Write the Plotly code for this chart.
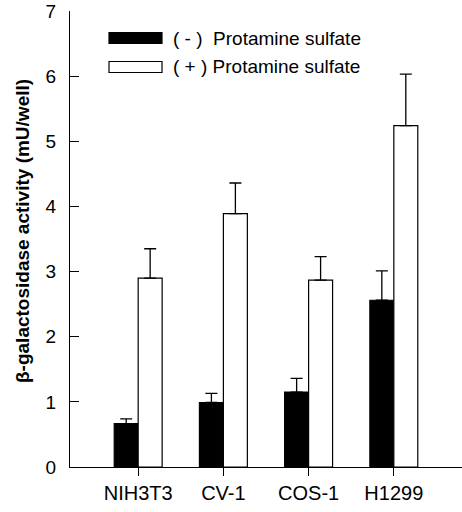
import plotly.graph_objects as go

categories = ["NIH3T3", "CV-1", "COS-1", "H1299"]
minus_values = [0.665, 0.99, 1.15, 2.56]
minus_errors = [0.075, 0.14, 0.21, 0.45]
plus_values = [2.90, 3.89, 2.87, 5.24]
plus_errors = [0.45, 0.47, 0.36, 0.79]
series_names = ["( - )  Protamine sulfate", "( + ) Protamine sulfate"]
y_ticks = [0, 1, 2, 3, 4, 5, 6, 7]
y_title = "β-galactosidase activity (mU/well)"

FONT = "Liberation Sans, Arial, Helvetica, sans-serif"
xpos = list(range(len(categories)))

fig = go.Figure()
fig.add_trace(go.Bar(
    x=xpos, y=minus_values, name=series_names[0],
    marker=dict(color="black", line=dict(color="black", width=1.2)),
    error_y=dict(type="data", symmetric=False, array=minus_errors,
                 arrayminus=[0] * len(minus_errors),
                 color="black", thickness=1.3, width=6),
    showlegend=False,
))
fig.add_trace(go.Bar(
    x=xpos, y=plus_values, name=series_names[1],
    marker=dict(color="white", line=dict(color="black", width=1.2)),
    error_y=dict(type="data", symmetric=False, array=plus_errors,
                 arrayminus=[0] * len(plus_errors),
                 color="black", thickness=1.3, width=6),
    showlegend=False,
))

# plot area in page coords: x 70..462, y 11..467
PW, PH, L, T = 392, 456, 70, 11
legend_rows = [(38, "black"), (67, "white")]
for (yc_px, col), name in zip(legend_rows, series_names):
    yc = 1 - (yc_px - T) / PH
    fig.add_shape(type="rect", xref="paper", yref="paper",
                  x0=(109 - L) / PW, x1=(162 - L) / PW,
                  y0=yc - 5.5 / PH, y1=yc + 5.5 / PH,
                  fillcolor=col, line=dict(color="black", width=1.2))
    fig.add_annotation(xref="paper", yref="paper", x=(171 - L) / PW, y=yc,
                       text=name, showarrow=False, xanchor="left", yanchor="middle",
                       font=dict(family=FONT, size=19, color="black"))

fig.add_annotation(xref="paper", yref="paper", x=(23 - L) / PW, y=1 - (231 - T) / PH,
                   text=y_title, textangle=-90, showarrow=False,
                   xanchor="center", yanchor="middle",
                   font=dict(family=FONT, size=19, color="black", weight="bold"))

fig.update_layout(
    width=462, height=512,
    margin=dict(l=L, r=0, t=T, b=45, autoexpand=False),
    paper_bgcolor="white", plot_bgcolor="white",
    barmode="group", bargap=0.4375, bargroupgap=0,
    font=dict(family=FONT, size=19, color="black"),
    xaxis=dict(range=[-0.8, 3.8], tickmode="array", tickvals=xpos, ticktext=categories,
               showline=True, linecolor="black", linewidth=1.3, showgrid=False,
               zeroline=False, ticks="outside", ticklen=8, tickwidth=1.3,
               tickcolor="black", tickfont=dict(family=FONT, size=20),
               automargin=False),
    yaxis=dict(range=[0, 7], tickmode="array", tickvals=y_ticks,
               showline=True, linecolor="black", linewidth=1.3, showgrid=False,
               zeroline=False, ticks="inside", ticklen=9, tickwidth=1.3,
               tickcolor="black", ticklabelstandoff=9, ticklabeloverflow="allow",
               tickfont=dict(family=FONT, size=19), automargin=False),
)

fig.write_html("out.html", config={"displayModeBar": False},
               post_script="document.body.style.margin='0';document.body.style.overflow='hidden';")
